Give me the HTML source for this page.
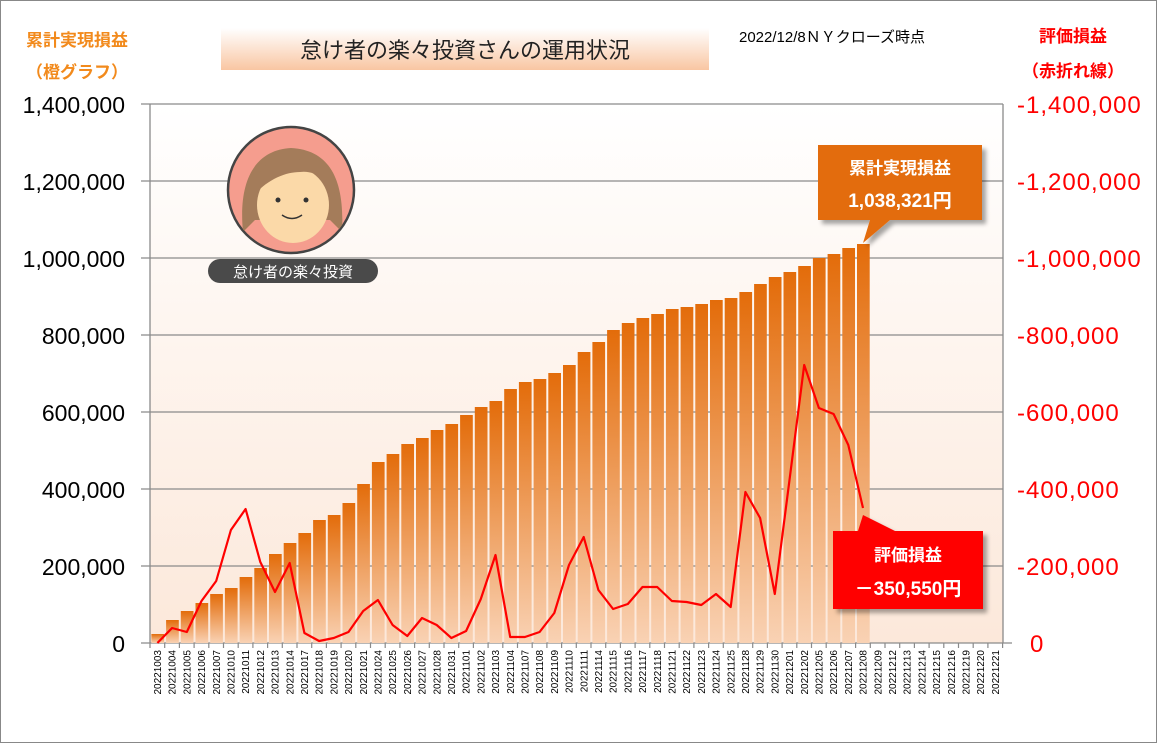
<!DOCTYPE html>
<html><head><meta charset="utf-8"><style>
body{margin:0;background:#fff;}
svg{display:block;font-family:"Liberation Sans","Noto Sans CJK JP",sans-serif;}
</style></head><body>
<svg width="1157" height="743" viewBox="0 0 1157 743" xmlns="http://www.w3.org/2000/svg">
<defs>
<linearGradient id="bg" x1="0" y1="0" x2="0" y2="1"><stop offset="0" stop-color="#ffffff"/><stop offset="1" stop-color="#fce8da"/></linearGradient>
<linearGradient id="bar" x1="0" y1="0" x2="0" y2="1"><stop offset="0" stop-color="#e36c0a"/><stop offset="1" stop-color="#f9d2b4"/></linearGradient>
<linearGradient id="tt" x1="0" y1="0" x2="0" y2="1"><stop offset="0" stop-color="#ffffff"/><stop offset="1" stop-color="#f9c6a2"/></linearGradient>
<filter id="sh" x="-20%" y="-20%" width="150%" height="150%"><feDropShadow dx="4" dy="4" stdDeviation="2" flood-color="#000" flood-opacity="0.35"/></filter>
<clipPath id="cc"><circle cx="291" cy="190" r="62"/></clipPath>
</defs>
<rect x="0.5" y="0.5" width="1156" height="742" fill="#fff" stroke="#888"/>
<rect x="150" y="104" width="853" height="539" fill="url(#bg)"/>
<g stroke="#8a8a8a" stroke-width="1.3">
<line x1="141" y1="104" x2="1003" y2="104"/><line x1="141" y1="181" x2="1003" y2="181"/><line x1="141" y1="258" x2="1003" y2="258"/><line x1="141" y1="335" x2="1003" y2="335"/><line x1="141" y1="412" x2="1003" y2="412"/><line x1="141" y1="489" x2="1003" y2="489"/><line x1="141" y1="566" x2="1003" y2="566"/><line x1="141" y1="643" x2="1003" y2="643"/>
<line x1="150" y1="104" x2="150" y2="643"/><line x1="1003" y1="104" x2="1003" y2="643"/>
</g>
<g fill="url(#bar)">
<rect x="151.4" y="634" width="12.7" height="9"/><rect x="166.1" y="620" width="12.7" height="23"/><rect x="180.8" y="611" width="12.7" height="32"/><rect x="195.5" y="603" width="12.7" height="40"/><rect x="210.2" y="594" width="12.7" height="49"/><rect x="224.9" y="588" width="12.7" height="55"/><rect x="239.6" y="577" width="12.7" height="66"/><rect x="254.3" y="568" width="12.7" height="75"/><rect x="269" y="554" width="12.7" height="89"/><rect x="283.7" y="543" width="12.7" height="100"/><rect x="298.4" y="533" width="12.7" height="110"/><rect x="313.1" y="520" width="12.7" height="123"/><rect x="327.8" y="515" width="12.7" height="128"/><rect x="342.5" y="503" width="12.7" height="140"/><rect x="357.2" y="484" width="12.7" height="159"/><rect x="371.9" y="462" width="12.7" height="181"/><rect x="386.6" y="454" width="12.7" height="189"/><rect x="401.3" y="444" width="12.7" height="199"/><rect x="416" y="438" width="12.7" height="205"/><rect x="430.7" y="430" width="12.7" height="213"/><rect x="445.4" y="424" width="12.7" height="219"/><rect x="460.1" y="415" width="12.7" height="228"/><rect x="474.8" y="407" width="12.7" height="236"/><rect x="489.5" y="401" width="12.7" height="242"/><rect x="504.2" y="389" width="12.7" height="254"/><rect x="518.9" y="382" width="12.7" height="261"/><rect x="533.6" y="379" width="12.7" height="264"/><rect x="548.3" y="373" width="12.7" height="270"/><rect x="563" y="365" width="12.7" height="278"/><rect x="577.7" y="352" width="12.7" height="291"/><rect x="592.4" y="342" width="12.7" height="301"/><rect x="607.1" y="330" width="12.7" height="313"/><rect x="621.8" y="323" width="12.7" height="320"/><rect x="636.5" y="318" width="12.7" height="325"/><rect x="651.2" y="314" width="12.7" height="329"/><rect x="665.9" y="309" width="12.7" height="334"/><rect x="680.6" y="307" width="12.7" height="336"/><rect x="695.3" y="304" width="12.7" height="339"/><rect x="710" y="300" width="12.7" height="343"/><rect x="724.7" y="298" width="12.7" height="345"/><rect x="739.4" y="292" width="12.7" height="351"/><rect x="754.1" y="284" width="12.7" height="359"/><rect x="768.8" y="277" width="12.7" height="366"/><rect x="783.5" y="272" width="12.7" height="371"/><rect x="798.2" y="266" width="12.7" height="377"/><rect x="812.9" y="258" width="12.7" height="385"/><rect x="827.6" y="254" width="12.7" height="389"/><rect x="842.3" y="248" width="12.7" height="395"/><rect x="857" y="244" width="12.7" height="399"/>
</g>
<polyline fill="none" stroke="#ff0000" stroke-width="2.2" stroke-linejoin="round" points="157.4,643 172.1,628 186.8,632 201.5,601 216.2,581 230.9,530 245.6,509 260.3,562 275,592 289.7,563 304.4,633 319.1,641 333.8,638 348.5,632 363.2,611 377.9,600 392.6,625 407.3,636 422,618 436.7,625 451.4,638 466.1,631 480.8,599 495.5,555 510.2,637 524.9,637 539.6,632 554.3,613 569,565 583.7,537 598.4,590 613.1,609 627.8,604 642.5,587 657.2,587 671.9,601 686.6,602 701.3,605 716,594 730.7,607 745.4,492 760.1,518 774.8,594 789.5,480 804.2,365 818.9,408 833.6,414 848.3,445 863,508"/>
<g stroke="#8a8a8a" stroke-width="1.2">
<path d="M150 643v5M164.7 643v5M179.4 643v5M194.1 643v5M208.8 643v5M223.5 643v5M238.2 643v5M252.9 643v5M267.6 643v5M282.3 643v5M297 643v5M311.7 643v5M326.4 643v5M341.1 643v5M355.8 643v5M370.5 643v5M385.2 643v5M399.9 643v5M414.6 643v5M429.3 643v5M444 643v5M458.7 643v5M473.4 643v5M488.1 643v5M502.8 643v5M517.5 643v5M532.2 643v5M546.9 643v5M561.6 643v5M576.3 643v5M591 643v5M605.7 643v5M620.4 643v5M635.1 643v5M649.8 643v5M664.5 643v5M679.2 643v5M693.9 643v5M708.6 643v5M723.3 643v5M738 643v5M752.7 643v5M767.4 643v5M782.1 643v5M796.8 643v5M811.5 643v5M826.2 643v5M840.9 643v5M855.6 643v5M870.3 643v5M885 643v5M899.7 643v5M914.4 643v5M929.1 643v5M943.8 643v5M958.5 643v5M973.2 643v5M987.9 643v5M1002.6 643v5M1003 643h9"/>
</g>
<g font-size="23" fill="#000" text-anchor="end">
<text x="125" y="113">1,400,000</text><text x="125" y="190">1,200,000</text><text x="125" y="267">1,000,000</text><text x="125" y="344">800,000</text><text x="125" y="421">600,000</text><text x="125" y="498">400,000</text><text x="125" y="575">200,000</text><text x="125" y="652">0</text>
</g>
<g font-size="24" fill="#ff0000" text-anchor="start" letter-spacing="1">
<text x="1017" y="113">-1,400,000</text><text x="1017" y="190">-1,200,000</text><text x="1017" y="267">-1,000,000</text><text x="1017" y="344">-800,000</text><text x="1017" y="421">-600,000</text><text x="1017" y="498">-400,000</text><text x="1017" y="575">-200,000</text><text x="1030" y="652">0</text>
</g>
<g font-size="10" fill="#000" text-anchor="end">
<text transform="translate(161,650) rotate(-90)">20221003</text><text transform="translate(175.7,650) rotate(-90)">20221004</text><text transform="translate(190.4,650) rotate(-90)">20221005</text><text transform="translate(205.1,650) rotate(-90)">20221006</text><text transform="translate(219.8,650) rotate(-90)">20221007</text><text transform="translate(234.5,650) rotate(-90)">20221010</text><text transform="translate(249.2,650) rotate(-90)">20221011</text><text transform="translate(263.9,650) rotate(-90)">20221012</text><text transform="translate(278.6,650) rotate(-90)">20221013</text><text transform="translate(293.3,650) rotate(-90)">20221014</text><text transform="translate(308,650) rotate(-90)">20221017</text><text transform="translate(322.7,650) rotate(-90)">20221018</text><text transform="translate(337.4,650) rotate(-90)">20221019</text><text transform="translate(352.1,650) rotate(-90)">20221020</text><text transform="translate(366.8,650) rotate(-90)">20221021</text><text transform="translate(381.5,650) rotate(-90)">20221024</text><text transform="translate(396.2,650) rotate(-90)">20221025</text><text transform="translate(410.9,650) rotate(-90)">20221026</text><text transform="translate(425.6,650) rotate(-90)">20221027</text><text transform="translate(440.3,650) rotate(-90)">20221028</text><text transform="translate(455,650) rotate(-90)">20221031</text><text transform="translate(469.7,650) rotate(-90)">20221101</text><text transform="translate(484.4,650) rotate(-90)">20221102</text><text transform="translate(499.1,650) rotate(-90)">20221103</text><text transform="translate(513.8,650) rotate(-90)">20221104</text><text transform="translate(528.5,650) rotate(-90)">20221107</text><text transform="translate(543.2,650) rotate(-90)">20221108</text><text transform="translate(557.9,650) rotate(-90)">20221109</text><text transform="translate(572.6,650) rotate(-90)">20221110</text><text transform="translate(587.3,650) rotate(-90)">20221111</text><text transform="translate(602,650) rotate(-90)">20221114</text><text transform="translate(616.7,650) rotate(-90)">20221115</text><text transform="translate(631.4,650) rotate(-90)">20221116</text><text transform="translate(646.1,650) rotate(-90)">20221117</text><text transform="translate(660.8,650) rotate(-90)">20221118</text><text transform="translate(675.5,650) rotate(-90)">20221121</text><text transform="translate(690.2,650) rotate(-90)">20221122</text><text transform="translate(704.9,650) rotate(-90)">20221123</text><text transform="translate(719.6,650) rotate(-90)">20221124</text><text transform="translate(734.3,650) rotate(-90)">20221125</text><text transform="translate(749,650) rotate(-90)">20221128</text><text transform="translate(763.7,650) rotate(-90)">20221129</text><text transform="translate(778.4,650) rotate(-90)">20221130</text><text transform="translate(793.1,650) rotate(-90)">20221201</text><text transform="translate(807.8,650) rotate(-90)">20221202</text><text transform="translate(822.5,650) rotate(-90)">20221205</text><text transform="translate(837.2,650) rotate(-90)">20221206</text><text transform="translate(851.9,650) rotate(-90)">20221207</text><text transform="translate(866.6,650) rotate(-90)">20221208</text><text transform="translate(881.3,650) rotate(-90)">20221209</text><text transform="translate(896,650) rotate(-90)">20221212</text><text transform="translate(910.7,650) rotate(-90)">20221213</text><text transform="translate(925.4,650) rotate(-90)">20221214</text><text transform="translate(940.1,650) rotate(-90)">20221215</text><text transform="translate(954.8,650) rotate(-90)">20221216</text><text transform="translate(969.5,650) rotate(-90)">20221219</text><text transform="translate(984.2,650) rotate(-90)">20221220</text><text transform="translate(998.9,650) rotate(-90)">20221221</text>
</g>
<g font-weight="bold" font-size="17" text-anchor="middle">
<text x="77" y="46" fill="#f28a1c">累計実現損益</text><text x="77" y="78" fill="#f28a1c">（橙グラフ）</text>
<text x="1073" y="42" fill="#ff0000">評価損益</text><text x="1073" y="77" fill="#ff0000">（赤折れ線）</text>
</g>
<rect x="221" y="28" width="488" height="42" fill="url(#tt)"/>
<text x="465" y="58" font-size="22" text-anchor="middle" fill="#222">怠け者の楽々投資さんの運用状況</text>
<text x="832" y="42" font-size="15" text-anchor="middle" fill="#000">2022/12/8ＮＹクローズ時点</text>
<circle cx="291" cy="190" r="63" fill="#f59d8e" stroke="#444" stroke-width="2.5"/>
<g clip-path="url(#cc)">
<path d="M243 232 C238 180 255 150 291 148 C330 150 345 180 342 232 L330 220 L255 220 Z" fill="#a47c5a"/>
<ellipse cx="293" cy="205" rx="36" ry="38" fill="#fbd9a8"/>
<path d="M250 200 C255 160 285 150 300 160 C320 150 340 170 338 200 C330 180 315 170 300 172 C285 172 265 180 250 200 Z" fill="#a47c5a"/>
<circle cx="278" cy="200" r="2.5" fill="#333"/><circle cx="306" cy="200" r="2.5" fill="#333"/>
<path d="M282 215 Q292 222 302 215" fill="none" stroke="#333" stroke-width="1.5"/>
</g>
<rect x="208" y="259" width="170" height="24" rx="12" fill="#4a4a4a"/>
<text x="293" y="277" font-size="15" fill="#fff" text-anchor="middle">怠け者の楽々投資</text>
<g filter="url(#sh)">
<path d="M818 145 H982 V220 H890 L863 243 L870 220 H818 Z" fill="#e36c0a"/>
<path d="M863 515 L895 531 H983 V609 H833 V531 H858 Z" fill="#ff0000"/>
</g>
<g font-weight="bold" fill="#fff" text-anchor="middle">
<text x="900" y="174" font-size="17">累計実現損益</text>
<text x="900" y="207" font-size="19">1,038,321円</text>
<text x="908" y="561" font-size="17">評価損益</text>
<text x="908" y="595" font-size="19">－350,550円</text>
</g>
</svg>
</body></html>
